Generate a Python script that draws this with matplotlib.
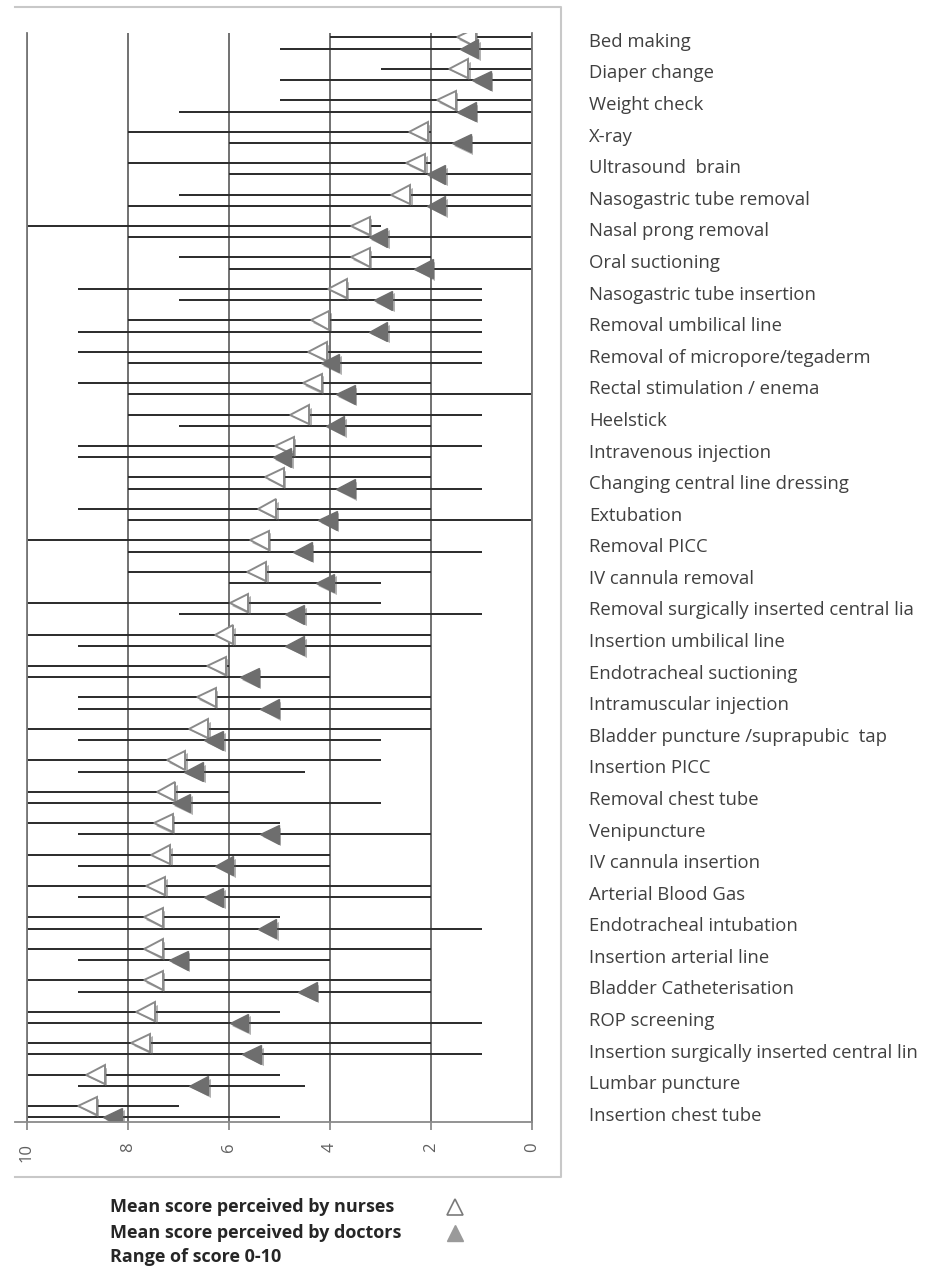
import numpy as np
import matplotlib.pyplot as plt
import matplotlib.patheffects as pe
from matplotlib.lines import Line2D

plt.rcParams['font.family'] = ['Open Sans', 'DejaVu Sans']

# procedures, top to bottom
procedures = ["Bed making", "Diaper change", "Weight check", "X-ray", "Ultrasound  brain",
              "Nasogastric tube removal", "Nasal prong removal", "Oral suctioning",
              "Nasogastric tube insertion", "Removal umbilical line", "Removal of micropore/tegaderm",
              "Rectal stimulation / enema", "Heelstick", "Intravenous injection",
              "Changing central line dressing", "Extubation", "Removal PICC", "IV cannula removal",
              "Removal surgically inserted central lia", "Insertion umbilical line",
              "Endotracheal suctioning", "Intramuscular injection", "Bladder puncture /suprapubic  tap",
              "Insertion PICC", "Removal chest tube", "Venipuncture", "IV cannula insertion",
              "Arterial Blood Gas", "Endotracheal intubation", "Insertion arterial line",
              "Bladder Catheterisation", "ROP screening", "Insertion surgically inserted central lin",
              "Lumbar puncture", "Insertion chest tube"]

# nurses: mean score and range
nurse_mean = [1.3, 1.45, 1.7, 2.25, 2.3, 2.6, 3.4, 3.4, 3.85, 4.2, 4.25, 4.35, 4.6, 4.9, 5.1,
              5.25, 5.4, 5.45, 5.8, 6.1, 6.25, 6.45, 6.6, 7.05, 7.25, 7.3, 7.35, 7.45, 7.5, 7.5,
              7.5, 7.65, 7.75, 8.65, 8.8]
nurse_min = [0, 0, 0, 2, 2, 0, 3, 2, 1, 1, 1, 2, 1, 1, 2, 2, 2, 2, 3, 2, 6, 2, 2, 3, 6, 5, 4,
             2, 5, 2, 2, 5, 2, 5, 7]
nurse_max = [4, 3, 5, 8, 8, 7, 10, 7, 9, 8, 9, 9, 8, 9, 8, 9, 10, 8, 10, 10, 10, 9, 10, 10, 10,
             10, 10, 10, 10, 10, 10, 10, 10, 10, 10]

# doctors: mean score and range
doctor_mean = [1.25, 1.0, 1.3, 1.4, 1.9, 1.9, 3.05, 2.15, 2.95, 3.05, 4.0, 3.7, 3.9, 4.95, 3.7,
               4.05, 4.55, 4.1, 4.7, 4.7, 5.6, 5.2, 6.3, 6.7, 6.95, 5.2, 6.1, 6.3, 5.25, 7.0,
               4.45, 5.8, 5.55, 6.6, 8.3]
doctor_min = [0, 0, 0, 0, 0, 0, 0, 0, 1, 1, 1, 0, 2, 2, 1, 0, 1, 3, 1, 2, 4, 2, 3, 4.5, 3, 2,
              4, 2, 1, 4, 2, 1, 1, 4.5, 5]
doctor_max = [5, 5, 7, 6, 6, 8, 8, 6, 7, 9, 8, 8, 7, 9, 8, 8, 8, 6, 7, 9, 10, 9, 9, 9, 10, 9,
              9, 9, 10, 9, 9, 10, 10, 9, 10]

W, H = 938, 1267
fig = plt.figure(figsize=(W / 100, H / 100), dpi=100)

# plot area in pixels: x 27..532, y 33..1122
ax = fig.add_axes([27 / W, 1 - 1122 / H, (532 - 27) / W, (1122 - 33) / H])

pos = np.arange(len(procedures))
yn = pos - 0.18
yd = pos + 0.18

# range lines
ax.hlines(yn, nurse_min, nurse_max, color='#2a2a2a', lw=1.4, zorder=2)
ax.hlines(yd, doctor_min, doctor_max, color='#2a2a2a', lw=1.4, zorder=2)

shadow = [pe.SimplePatchShadow(offset=(1.8, -1.8), shadow_rgbFace='#555555', alpha=0.45), pe.Normal()]
ax.plot(nurse_mean, yn, ls='none', marker='<', ms=13.5, mfc='white', mec='#8a8a8a', mew=1.4,
        zorder=4, path_effects=shadow)
ax.plot(doctor_mean, yd, ls='none', marker='<', ms=13.5, mfc='#6e6e6e', mec='#6e6e6e', mew=1,
        zorder=5, path_effects=shadow)

ax.set_xlim(10, 0)
ax.set_ylim(34.33, -0.32)
ax.set_xticks(range(0, 11, 2))
ax.set_xticklabels([str(v) for v in range(0, 11, 2)], rotation=90, color='#606060', fontsize=12)
ax.grid(axis='x', color='#4a4a4a', lw=1.1, zorder=1)
ax.tick_params(axis='x', length=6, width=1.1, color='#777777', pad=9)

# category names on the right
ax.yaxis.tick_right()
ax.set_yticks(pos * 1.005 - 0.1)
ax.set_yticklabels(procedures, fontsize=13.3, color='#404040')
ax.tick_params(axis='y', length=0, pad=41)

for s in ['top', 'bottom']:
    ax.spines[s].set_visible(False)
for s in ['left', 'right']:
    ax.spines[s].set_color('#777777')
    ax.spines[s].set_linewidth(1.3)

# category axis line (extends a bit left of the plot)
fig.add_artist(Line2D([15 / W, 532 / W], [1 - 1122 / H] * 2, color='#8a8a8a', lw=1.3))

# chart area border
bx = [15 / W, 561 / W, 561 / W, 15 / W]
by = [1 - 7 / H, 1 - 7 / H, 1 - 1177 / H, 1 - 1177 / H]
fig.add_artist(Line2D(bx, by, color='#c8c8c8', lw=1.5))

# legend below the chart
legend_text = ["Mean score perceived by nurses", "Mean score perceived by doctors", "Range of score 0-10"]
legend_y = [1207, 1233, 1257]
for t, yy in zip(legend_text, legend_y):
    fig.text(110 / W, 1 - yy / H, t, fontsize=13, fontweight='bold', color='#262626', va='center')
fig.add_artist(Line2D([455 / W], [1 - 1207 / H], marker='^', ms=11, mfc='white', mec='#7a7a7a', mew=1.2))
fig.add_artist(Line2D([455 / W], [1 - 1233 / H], marker='^', ms=11, mfc='#9a9a9a', mec='#9a9a9a'))

plt.savefig('out.png', dpi=100)
